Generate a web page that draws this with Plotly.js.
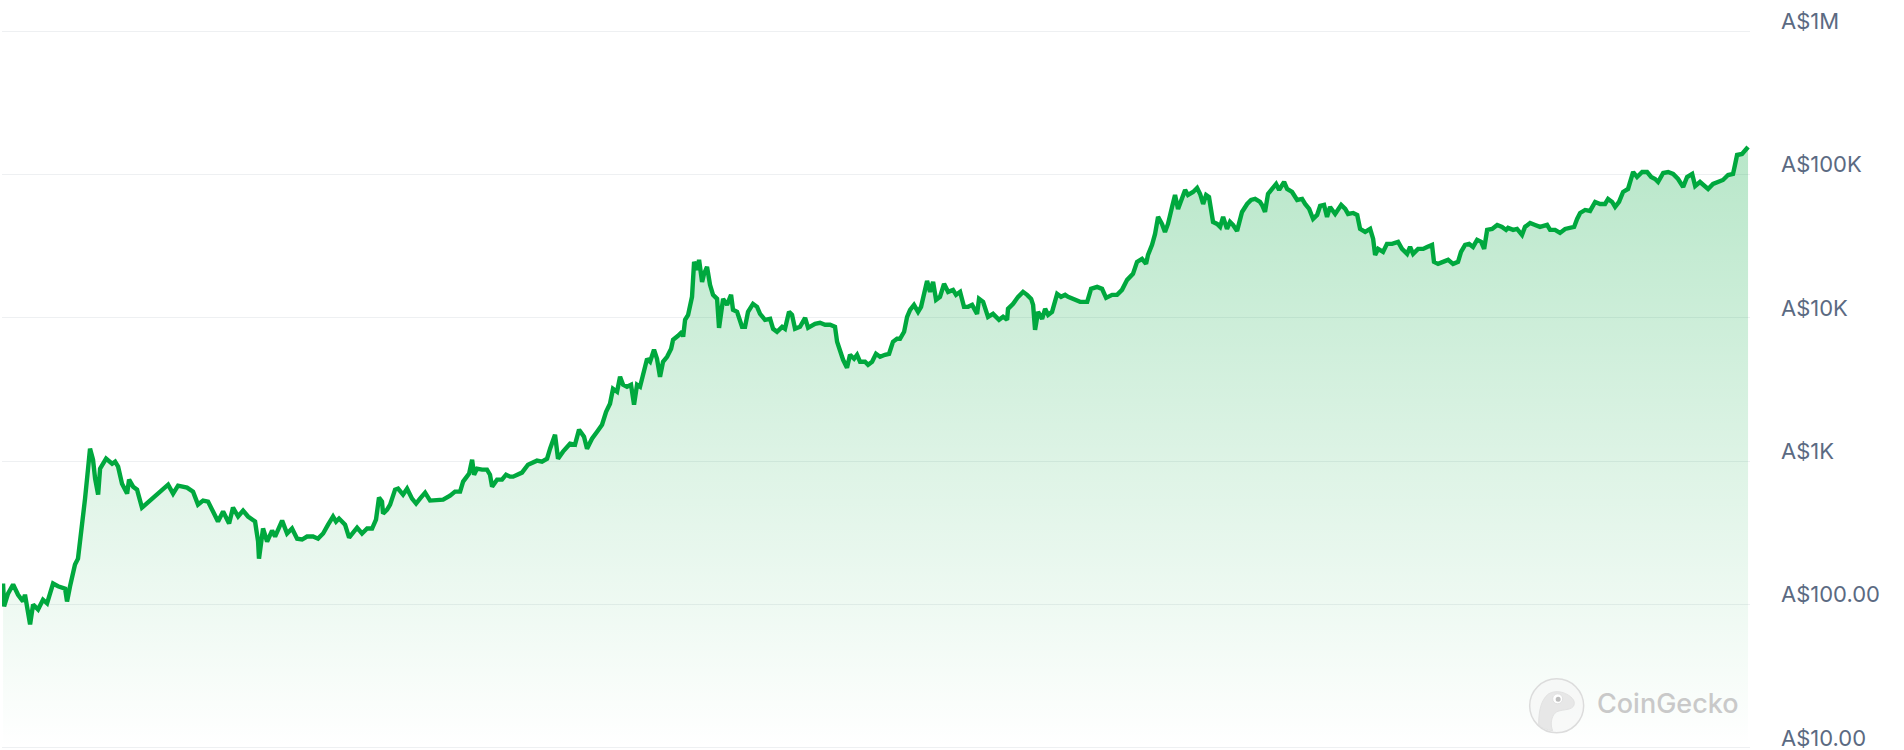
<!DOCTYPE html>
<html>
<head>
<meta charset="utf-8">
<script src="https://cdn.plot.ly/plotly-3.0.1.min.js"></script>
<style>
  html, body { margin: 0; padding: 0; background: #ffffff; }
  #chart { width: 1904px; height: 750px; }
</style>
</head>
<body>
<div id="chart"></div>
<script>
// Decimal years (time axis, no labels shown)
const years = [
  2013.320, 2013.327, 2013.353, 2013.387, 2013.420, 2013.453, 2013.466, 2013.500, 2013.520, 2013.553,
  2013.586, 2013.613, 2013.653, 2013.686, 2013.733, 2013.746, 2013.766, 2013.799, 2013.819, 2013.846,
  2013.866, 2013.886, 2013.899, 2013.919, 2013.933, 2013.953, 2013.966, 2014.006, 2014.046, 2014.066,
  2014.086, 2014.112, 2014.146, 2014.159, 2014.186, 2014.212, 2014.245, 2014.419, 2014.452, 2014.485,
  2014.545, 2014.585, 2014.618, 2014.652, 2014.685, 2014.718, 2014.751, 2014.785, 2014.825, 2014.851,
  2014.885, 2014.918, 2014.951, 2014.998, 2015.018, 2015.024, 2015.051, 2015.078, 2015.111, 2015.131,
  2015.178, 2015.211, 2015.244, 2015.278, 2015.311, 2015.344, 2015.384, 2015.417, 2015.451, 2015.484,
  2015.517, 2015.537, 2015.557, 2015.597, 2015.624, 2015.677, 2015.710, 2015.744, 2015.777, 2015.803,
  2015.823, 2015.843, 2015.850, 2015.877, 2015.897, 2015.930, 2015.950, 2015.983, 2016.010, 2016.043,
  2016.070, 2016.096, 2016.130, 2016.163, 2016.210, 2016.250, 2016.296, 2016.329, 2016.363, 2016.383,
  2016.423, 2016.443, 2016.456, 2016.476, 2016.509, 2016.542, 2016.562, 2016.576, 2016.609, 2016.642,
  2016.669, 2016.696, 2016.716, 2016.775, 2016.815, 2016.875, 2016.908, 2016.942, 2016.962, 2016.995,
  2017.015, 2017.048, 2017.095, 2017.128, 2017.155, 2017.188, 2017.208, 2017.241, 2017.275, 2017.308,
  2017.335, 2017.361, 2017.381, 2017.408, 2017.428, 2017.448, 2017.474, 2017.501, 2017.521, 2017.541,
  2017.561, 2017.581, 2017.608, 2017.628, 2017.654, 2017.674, 2017.694, 2017.714, 2017.741, 2017.768,
  2017.781, 2017.814, 2017.841, 2017.848, 2017.861, 2017.881, 2017.907, 2017.921, 2017.941, 2017.954,
  2017.974, 2017.987, 2018.007, 2018.027, 2018.047, 2018.074, 2018.087, 2018.114, 2018.140, 2018.167,
  2018.180, 2018.207, 2018.240, 2018.260, 2018.280, 2018.313, 2018.340, 2018.360, 2018.393, 2018.427,
  2018.447, 2018.473, 2018.507, 2018.526, 2018.553, 2018.573, 2018.593, 2018.626, 2018.660, 2018.680,
  2018.726, 2018.759, 2018.793, 2018.826, 2018.859, 2018.873, 2018.893, 2018.913, 2018.939, 2018.959,
  2018.986, 2019.006, 2019.026, 2019.059, 2019.079, 2019.106, 2019.132, 2019.159, 2019.192, 2019.219,
  2019.245, 2019.272, 2019.292, 2019.319, 2019.339, 2019.359, 2019.385, 2019.412, 2019.432, 2019.445,
  2019.472, 2019.492, 2019.512, 2019.532, 2019.558, 2019.585, 2019.612, 2019.645, 2019.665, 2019.692,
  2019.718, 2019.745, 2019.772, 2019.805, 2019.818, 2019.845, 2019.878, 2019.911, 2019.951, 2019.978,
  2020.005, 2020.011, 2020.045, 2020.078, 2020.111, 2020.138, 2020.165, 2020.178, 2020.191, 2020.211,
  2020.238, 2020.258, 2020.278, 2020.304, 2020.338, 2020.364, 2020.391, 2020.411, 2020.444, 2020.491,
  2020.538, 2020.564, 2020.604, 2020.637, 2020.664, 2020.704, 2020.737, 2020.770, 2020.804, 2020.843,
  2020.870, 2020.903, 2020.930, 2020.943, 2020.970, 2020.990, 2021.010, 2021.036, 2021.056, 2021.076,
  2021.103, 2021.123, 2021.143, 2021.170, 2021.190, 2021.209, 2021.243, 2021.270, 2021.290, 2021.310,
  2021.330, 2021.349, 2021.376, 2021.403, 2021.423, 2021.443, 2021.469, 2021.489, 2021.509, 2021.536,
  2021.569, 2021.603, 2021.629, 2021.656, 2021.689, 2021.702, 2021.722, 2021.742, 2021.776, 2021.796,
  2021.816, 2021.849, 2021.869, 2021.902, 2021.936, 2021.969, 2021.989, 2022.016, 2022.042, 2022.069,
  2022.089, 2022.115, 2022.135, 2022.155, 2022.189, 2022.229, 2022.256, 2022.275, 2022.309, 2022.336,
  2022.355, 2022.389, 2022.422, 2022.442, 2022.455, 2022.475, 2022.508, 2022.534, 2022.568, 2022.608,
  2022.634, 2022.668, 2022.688, 2022.708, 2022.741, 2022.775, 2022.801, 2022.834, 2022.847, 2022.874,
  2022.907, 2022.941, 2022.974, 2023.007, 2023.027, 2023.054, 2023.081, 2023.107, 2023.134, 2023.161,
  2023.181, 2023.201, 2023.234, 2023.268, 2023.300, 2023.327, 2023.340, 2023.374, 2023.400, 2023.433,
  2023.453, 2023.487, 2023.520, 2023.553, 2023.600, 2023.620, 2023.653, 2023.686, 2023.720, 2023.753,
  2023.780, 2023.800, 2023.820, 2023.853, 2023.886, 2023.920, 2023.953, 2023.986, 2024.006, 2024.033,
  2024.053, 2024.079, 2024.106, 2024.139, 2024.159, 2024.173, 2024.199, 2024.233, 2024.266, 2024.293,
  2024.319, 2024.339, 2024.373, 2024.406, 2024.439, 2024.472, 2024.506, 2024.532, 2024.566, 2024.586,
  2024.618, 2024.645, 2024.672, 2024.705, 2024.738, 2024.771, 2024.805, 2024.838, 2024.851, 2024.865,
  2024.898, 2024.918, 2024.938
];

// Bitcoin price in AUD
const pricesAUD = [
  140, 97, 119, 138, 117, 105, 117, 72.6, 100, 92.3,
  108, 102, 140, 134, 129, 105, 134, 190, 209, 339,
  548, 887, 1222, 1024, 755, 584, 887, 1041, 960, 992,
  915, 697, 594, 743, 664, 633, 474, 686, 594, 675,
  654, 613, 498, 531, 522, 445, 379, 445, 367, 474,
  411, 452, 411, 379, 275, 209, 339, 275, 328, 298,
  385, 313, 339, 288, 284, 298, 298, 288, 313, 361,
  411, 379, 398, 361, 293, 344, 313, 339, 339, 391,
  557, 522, 431, 459, 498, 633, 643, 584, 643, 548,
  506, 548, 603, 531, 539, 539, 575, 613, 613, 720,
  818, 1024, 805, 887, 873, 873, 805, 664, 743, 743,
  805, 780, 780, 832, 945, 1008, 992, 1041, 1222, 1530,
  1041, 1165, 1324, 1303, 1658, 1482, 1222, 1435, 1605, 1797,
  2213, 2516, 3201, 3050, 3880, 3414, 3306, 3414, 2476, 3414,
  3306, 4006, 5180, 4937, 5984, 5180, 3880, 4937, 5348, 6081,
  7027, 7492, 7989, 7372, 9685, 10490, 14010, 24560, 21600, 25370,
  17820, 20260, 22660, 16980, 14470, 13570, 8518, 13570, 12320, 14470,
  11370, 11010, 8656, 8656, 11010, 12520, 11930, 10660, 9685, 9840,
  8381, 7989, 8656, 8381, 11010, 10490, 8381, 8656, 10000, 8518,
  9082, 9230, 8938, 8938, 8656, 6805, 5797, 5096, 4482, 5524,
  5180, 5524, 4937, 4937, 4705, 4937, 5612, 5348, 5524, 5612,
  6805, 7140, 7140, 7989, 10160, 11370, 12320, 11010, 11930, 13570,
  18100, 15180, 17820, 13350, 14010, 17260, 15180, 15670, 14470, 15180,
  11930, 11930, 12320, 10660, 13570, 12930, 10160, 10660, 9685, 10160,
  9685, 11550, 12520, 14010, 15180, 14470, 13570, 12320, 8248, 11010,
  9840, 11550, 10490, 11010, 14700, 14010, 14470, 14010, 13570, 12930,
  12930, 15930, 16440, 15930, 13780, 14470, 14470, 15670, 18400, 20260,
  24560, 25780, 23790, 27480, 32270, 38500, 50560, 45200, 39760, 45200,
  59380, 71950, 57500, 67500, 78000, 71950, 75530, 80520, 73120, 62300,
  71950, 69700, 46670, 45200, 43080, 50560, 41710, 46670, 44470, 40400,
  54790, 62300, 66430, 67500, 64330, 61320, 54790, 73120, 81830, 85860,
  78000, 88650, 79250, 75530, 66430, 67500, 62300, 57500, 48970, 52220,
  60340, 61320, 50560, 59380, 53060, 61320, 57500, 53060, 53920, 52220,
  41710, 39760, 41710, 35530, 27480, 30260, 28840, 32790, 32790, 33860,
  30260, 27930, 31240, 27930, 30260, 30260, 31240, 32270, 24560, 23790,
  24560, 25370, 23790, 24560, 28840, 32270, 32790, 31240, 34970, 33860,
  30260, 41050, 41710, 44470, 43080, 41050, 42390, 41050, 41710, 37880,
  43080, 45920, 44470, 43080, 44470, 41050, 41050, 39120, 41710, 42390,
  43080, 48970, 53920, 56570, 55680, 64330, 62300, 62300, 67500, 64330,
  59380, 64330, 75530, 79250, 91550, 104100, 96070, 104100, 104100, 96070,
  93040, 88650, 102400, 104100, 100800, 93040, 81830, 96070, 100800, 83160,
  88650, 84500, 79250, 85860, 88650, 91550, 99200, 100800, 116500, 136800,
  139000, 148200, 155500
];

const tickValues = [10, 100, 1000, 10000, 100000, 1000000];
const tickLabels = ["A$10.00", "A$100.00", "A$1K", "A$10K", "A$100K", "A$1M"];
const yearRange = [2013.313, 2024.951];
const logRange = [0.985, 6.015];
const watermarkText = "CoinGecko";

const lineGreen = "#00a83e";

const trace = {
  type: "scatter",
  mode: "lines",
  x: years,
  y: pricesAUD,
  line: { color: lineGreen, width: 4.4, shape: "linear" },
  fill: "tozeroy",
  fillgradient: {
    type: "vertical",
    start: 10,
    stop: 160000,
    colorscale: [
      [0, "rgba(0,168,62,0.0)"],
      [1, "rgba(0,168,62,0.28)"]
    ]
  },
  hoverinfo: "skip",
  showlegend: false
};

const layout = {
  width: 1904,
  height: 750,
  paper_bgcolor: "#ffffff",
  plot_bgcolor: "#ffffff",
  margin: { l: 2, r: 154, t: 28.85, b: 0, pad: 0 },
  showlegend: false,
  xaxis: {
    type: "linear",
    range: yearRange,
    showgrid: false,
    zeroline: false,
    showline: false,
    showticklabels: false,
    ticks: "",
    fixedrange: true
  },
  yaxis: {
    type: "log",
    side: "right",
    range: logRange,
    tickmode: "array",
    tickvals: tickValues,
    ticktext: tickLabels,
    showgrid: true,
    gridcolor: "#eef0f2",
    gridwidth: 1.2,
    zeroline: false,
    showline: false,
    ticks: "",
    ticklabelstandoff: 30,
    ticklabelshift: -10,
    ticklabeloverflow: "allow",
    tickfont: { family: "Inter, 'Open Sans', sans-serif", size: 22, color: "#5b6a82" },
    fixedrange: true
  },
  shapes: [
    {
      type: "circle",
      xref: "paper", yref: "paper",
      xsizemode: "pixel", ysizemode: "pixel",
      xanchor: 0.8894, yanchor: 0.0613,
      x0: -27, x1: 27, y0: -27, y1: 27,
      line: { color: "#dcdcdc", width: 1.5 },
      fillcolor: "rgba(245,245,245,0.6)",
      layer: "above"
    },
    {
      type: "path",
      xref: "paper", yref: "paper",
      xsizemode: "pixel", ysizemode: "pixel",
      xanchor: 0.8894, yanchor: 0.0613,
      path: "M -18,-19 C -18,-6 -16,6 -8,12 C -1,16 8,14 14,9 C 19,5 19,-1 13,-3 C 6,-5 0,-4 -3,-9 C -6,-14 -6,-20 -4,-25 C -10,-24 -15,-22 -18,-19 Z",
      line: { color: "#e2e2e2", width: 1 },
      fillcolor: "rgba(228,228,228,0.85)",
      layer: "above"
    },
    {
      type: "circle",
      xref: "paper", yref: "paper",
      xsizemode: "pixel", ysizemode: "pixel",
      xanchor: 0.8894, yanchor: 0.0613,
      x0: -4, x1: 6, y0: 2, y1: 12,
      line: { color: "#e0e0e0", width: 1 },
      fillcolor: "#ffffff",
      layer: "above"
    },
    {
      type: "circle",
      xref: "paper", yref: "paper",
      xsizemode: "pixel", ysizemode: "pixel",
      xanchor: 0.8894, yanchor: 0.0613,
      x0: -1, x1: 4, y0: 4, y1: 9,
      line: { width: 0 },
      fillcolor: "#bdbdbd",
      layer: "above"
    }
  ],
  annotations: [
    {
      xref: "paper", yref: "paper",
      x: 0.9113, y: 0.0641,
      xanchor: "left", yanchor: "middle",
      text: watermarkText,
      showarrow: false,
      font: { family: "Inter, 'Open Sans', sans-serif", size: 27, color: "#c9c9c9", weight: 500 }
    }
  ]
};

Plotly.newPlot("chart", [trace], layout, { displayModeBar: false, staticPlot: true });
</script>
</body>
</html>
